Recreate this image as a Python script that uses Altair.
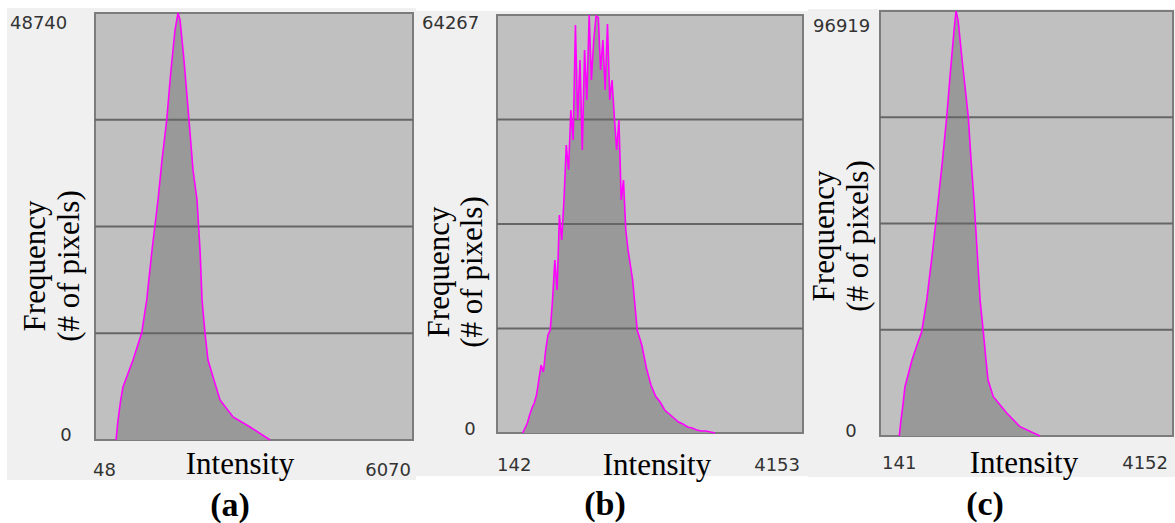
import altair as alt
import pandas as pd

# ---------------- histogram data ----------------
# (a)
a_intensity = [446, 484, 535, 578, 648, 768, 932, 1027, 1128, 1241, 1317, 1406, 1487,
               1563, 1620, 1658, 1733, 1828, 1904, 1980, 2037, 2075, 2131, 2188, 2283,
               2416, 2662, 2984, 3363]
a_count = [0, 2283, 4566, 6050, 7191, 9132, 12214, 15980, 21688, 27395, 31961, 36527, 42234,
           46800, 48740, 47940, 43375, 36527, 30820, 27395, 21688, 15980, 12214, 9132, 7191,
           4566, 2625, 1484, 0]
a_xrange = [48, 6070]
a_ymax = 48740

# (b)
b_intensity = [480, 510, 540, 570, 600, 630, 660, 690, 720, 750, 780, 810, 840, 870, 900,
               930, 960, 990, 1020, 1050, 1080, 1110, 1140, 1170, 1200, 1230, 1260, 1290,
               1320, 1350, 1380, 1410, 1440, 1470, 1500, 1530, 1560, 1590, 1620, 1650, 1680,
               1710, 1740, 1770, 1800, 1830, 1860, 1890, 1920, 1950, 1980,
               2040, 2100, 2160, 2220, 2280, 2340, 2400, 2460, 2520, 2580, 2640, 2700, 2760,
               2820, 2880, 2940, 3000]
b_count = [0, 769, 1538, 2768, 3844, 4613, 5843, 8149, 10455, 9379, 12761, 15068, 15836,
           20449, 26599, 21986, 33518, 29674, 35824, 44280, 40436, 49661, 45049, 62730,
           48124, 57349, 43511, 58886, 51199, 64267, 54274, 60424, 64100, 63900, 55811,
           60424, 52736, 62884, 51199, 54274, 48585, 43511, 48124, 35824, 38899, 31211,
           28136, 25830, 23524, 19680, 15836,
           13530, 9994, 7380, 5689, 4766, 3536, 2921, 2306, 1691, 1384, 923, 769, 461,
           308, 308, 154, 0]
b_xrange = [142, 4153]
b_ymax = 64267

# (c)
c_intensity = [405, 428, 452, 483, 507, 579, 648, 712, 781, 863, 939, 997, 1054, 1107, 1155,
               1182, 1210, 1265, 1350, 1387, 1428, 1470, 1511, 1555, 1592, 1620, 1692, 1876,
               2058, 2332]
c_count = [0, 3649, 6682, 11243, 12770, 17331, 20752, 23785, 31014, 42416, 53818, 62940,
           72746, 83463, 92584, 96919, 94865, 85743, 72746, 62940, 53818, 42416, 31014,
           23785, 17331, 12770, 8962, 5245, 2121, 0]
c_xrange = [141, 4152]
c_ymax = 96919

x_title = "Intensity"
y_title = ["Frequency", "(# of pixels)"]
captions = ["(a)", "(b)", "(c)"]

SERIF = "Liberation Serif"
SANS = "DejaVu Sans"
TICK_COLOR = "#333333"


def blank():
    return alt.Chart(alt.Data(values=[{}]))


def panel(intensity, count, xrange, ymax, caption, col_w, frame, plot, lay):
    """One histogram panel drawn inside a column of width col_w."""
    fx0, fx1, fy0, fy1 = frame
    px0, px1, py0, py1 = plot
    xs = alt.Scale(domain=xrange, range=[px0, px1], nice=False, zero=False)
    ys = alt.Scale(domain=[0, ymax], range=[py1, py0], nice=False, zero=True)

    df = pd.DataFrame({"intensity": intensity, "count": count})
    grid = pd.DataFrame({"q": [ymax / 4, ymax / 2, 3 * ymax / 4]})

    frame_box = blank().mark_rect(color="#f0f0f0").encode(
        x=alt.value(fx0), x2=alt.value(fx1), y=alt.value(fy0), y2=alt.value(fy1))

    plot_bg = blank().mark_rect(fill="#c0c0c0", stroke="#7c7c7c", strokeWidth=2).encode(
        x=alt.X(datum=xrange[0], type="quantitative", scale=xs, axis=None),
        x2=alt.X2(datum=xrange[1]),
        y=alt.Y(datum=0, type="quantitative", scale=ys, axis=None),
        y2=alt.Y2(datum=ymax))

    base = alt.Chart(df).encode(
        x=alt.X("intensity:Q", scale=xs, axis=None),
        y=alt.Y("count:Q", scale=ys, axis=None))
    area = base.mark_area(color="#999999")
    line = base.mark_line(color="#ff00ff", strokeWidth=1.6)

    rules = alt.Chart(grid).mark_rule(color="#666666", strokeWidth=2).encode(
        y=alt.Y("q:Q", scale=ys, axis=None),
        x=alt.X(datum=xrange[0], type="quantitative", scale=xs, axis=None),
        x2=alt.X2(datum=xrange[1]))

    tick = dict(font=SANS, fontSize=18, color=TICK_COLOR)
    x_lo = blank().mark_text(align="left", baseline="alphabetic", dx=lay["xlo_dx"], **tick).encode(
        x=alt.X(datum=xrange[0], type="quantitative", scale=xs, axis=None),
        y=alt.value(lay["xlab_y"]), text=alt.value(str(xrange[0])))
    x_hi = blank().mark_text(align="right", baseline="alphabetic", dx=lay["xhi_dx"], **tick).encode(
        x=alt.X(datum=xrange[1], type="quantitative", scale=xs, axis=None),
        y=alt.value(lay["xlab_y"]), text=alt.value(str(xrange[1])))
    y_hi = blank().mark_text(align="left", baseline="top", dy=lay["yhi_dy"], **tick).encode(
        y=alt.Y(datum=ymax, type="quantitative", scale=ys, axis=None),
        x=alt.value(lay["yhi_x"]), text=alt.value(str(ymax)))
    y_lo = blank().mark_text(align="center", baseline="alphabetic", dy=lay["ylo_dy"], **tick).encode(
        y=alt.Y(datum=0, type="quantitative", scale=ys, axis=None),
        x=alt.value(lay["ylo_x"]), text=alt.value("0"))

    serif = dict(font=SERIF, fontSize=31, color="black")
    x_lab = blank().mark_text(align="center", baseline="alphabetic", **serif).encode(
        x=alt.value(lay["xt_x"]), y=alt.value(lay["xt_y"]), text=alt.value(x_title))
    y_lab1 = blank().mark_text(align="center", baseline="middle", angle=270, **serif).encode(
        x=alt.value(lay["yt_x1"]), y=alt.value(lay["yt_y"]), text=alt.value(y_title[0]))
    y_lab2 = blank().mark_text(align="center", baseline="middle", angle=270, **serif).encode(
        x=alt.value(lay["yt_x2"]), y=alt.value(lay["yt_y"]), text=alt.value(y_title[1]))
    cap = blank().mark_text(align="center", baseline="alphabetic", font=SERIF, fontSize=34,
                            fontWeight="bold", color="black").encode(
        x=alt.value(lay["cap_x"]), y=alt.value(lay["cap_y"]), text=alt.value(caption))

    return alt.layer(frame_box, plot_bg, area, rules, line, x_lo, x_hi, y_hi, y_lo,
                     x_lab, y_lab1, y_lab2, cap).properties(width=col_w, height=523)


pa = panel(a_intensity, a_count, a_xrange, a_ymax, captions[0], 416,
           frame=(7, 416, 8, 480), plot=(95, 413, 13, 440),
           lay=dict(xlo_dx=-2, xhi_dx=-2, xlab_y=476, yhi_dy=2, yhi_x=10, ylo_dy=1, ylo_x=66,
                    xt_x=240, xt_y=474, yt_x1=36, yt_x2=70, yt_y=266, cap_x=230, cap_y=516))
pb = panel(b_intensity, b_count, b_xrange, b_ymax, captions[1], 392,
           frame=(0, 392, 11, 476), plot=(81, 387, 15, 433),
           lay=dict(xlo_dx=0, xhi_dx=-3, xlab_y=471, yhi_dy=0, yhi_x=6, ylo_dy=2, ylo_x=54,
                    xt_x=241, xt_y=475, yt_x1=24, yt_x2=57, yt_y=272, cap_x=189, cap_y=515))
pc = panel(c_intensity, c_count, c_xrange, c_ymax, captions[2], 367,
           frame=(0, 367, 9, 477), plot=(72, 365, 11, 436),
           lay=dict(xlo_dx=2, xhi_dx=-5, xlab_y=469, yhi_dy=7, yhi_x=5, ylo_dy=1, ylo_x=43,
                    xt_x=216, xt_y=473, yt_x1=17, yt_x2=51, yt_y=236, cap_x=177, cap_y=515))

chart = alt.hconcat(pa, pb, pc, spacing=0, bounds="flush").properties(
    padding=0, background="white"
).configure_view(stroke=None)

chart.save("out.html", embed_options={"renderer": "svg", "actions": False})
